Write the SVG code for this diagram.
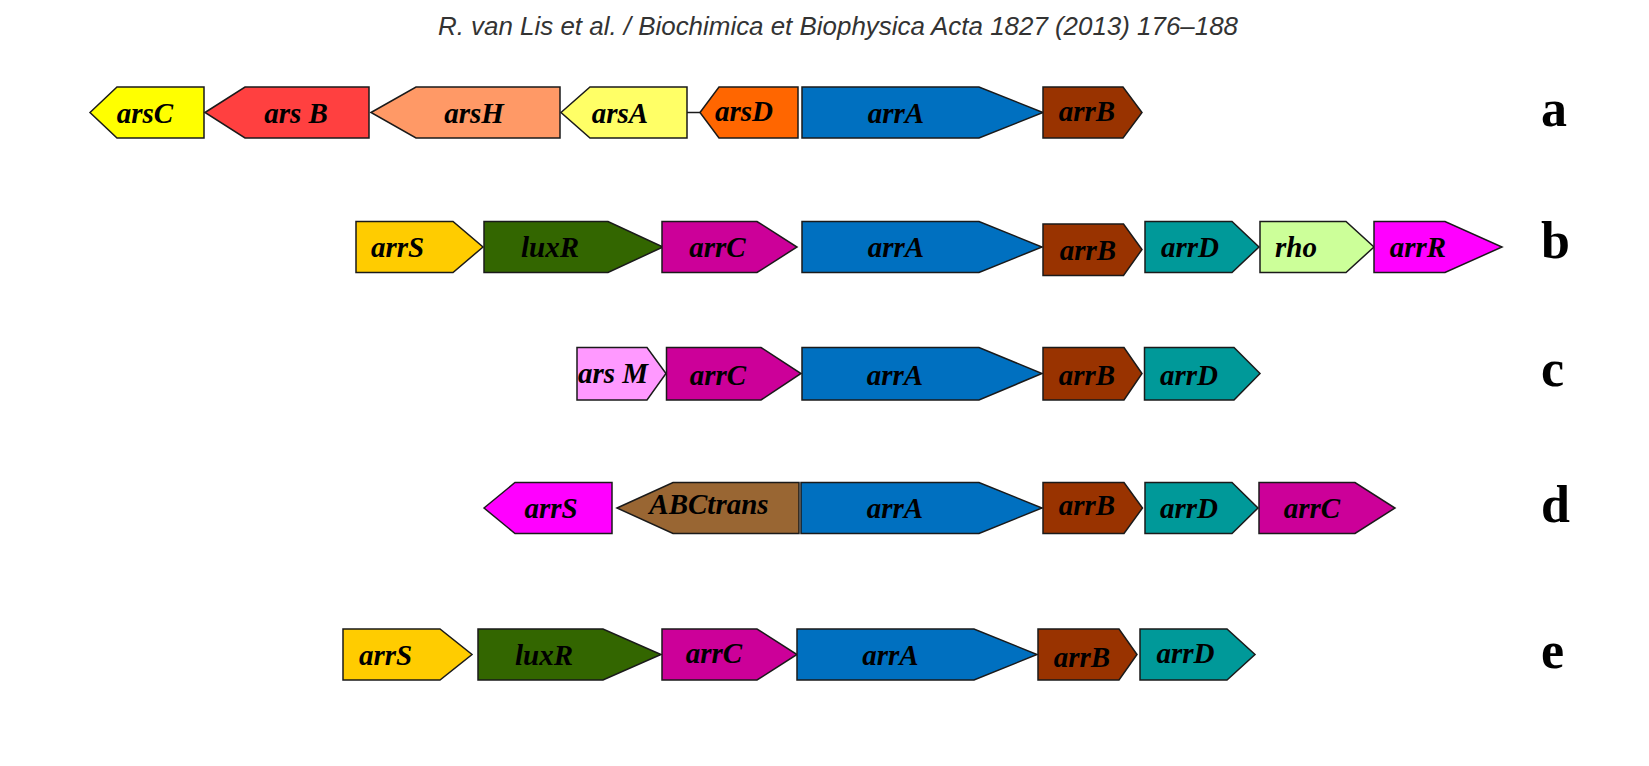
<svg xmlns="http://www.w3.org/2000/svg" width="1649" height="766" viewBox="0 0 1649 766">
<style>
.g{stroke:#1a1a1a;stroke-width:1.5;stroke-linejoin:miter}
.t{font-family:"Liberation Serif","Times New Roman",serif;font-weight:bold;font-style:italic;font-size:29px;fill:#000;text-anchor:middle}
.r{font-family:"Liberation Serif","Times New Roman",serif;font-weight:bold;font-size:52px;fill:#000}
.h{font-family:"Liberation Sans",Arial,sans-serif;font-style:italic;font-size:25px;fill:#333}
</style>
<rect width="1649" height="766" fill="#fff"/>
<text class="h" x="438" y="35" textLength="800" lengthAdjust="spacingAndGlyphs">R. van Lis et al. / Biochimica et Biophysica Acta 1827 (2013) 176–188</text>

<g id="connectors">
<line x1="687" y1="112.5" x2="700" y2="112.5" stroke="#1a1a1a" stroke-width="1.5"/>
</g>

<!-- Row a -->
<g id="a-arsC"><polygon class="g" fill="#FFFF00" points="90,112.5 117,87 204,87 204,138 117,138"/><text class="t" x="145" y="123">arsC</text></g>
<g id="a-arsB"><polygon class="g" fill="#FF4040" points="205,112.5 245,87 369,87 369,138 245,138"/><text class="t" x="296" y="123">ars B</text></g>
<g id="a-arsH"><polygon class="g" fill="#FF9966" points="371,112.5 416,87 560,87 560,138 416,138"/><text class="t" x="474" y="123">arsH</text></g>
<g id="a-arsA"><polygon class="g" fill="#FFFF66" points="561,112.5 590,87 687,87 687,138 590,138"/><text class="t" x="620" y="123">arsA</text></g>
<g id="a-arsD"><polygon class="g" fill="#FF6600" points="700,112.5 719,87 798,87 798,138 719,138"/><text class="t" x="744" y="121">arsD</text></g>
<g id="a-arrA"><polygon class="g" fill="#0070C0" points="802,87 979,87 1043,112.5 979,138 802,138"/><text class="t" x="896" y="123">arrA</text></g>
<g id="a-arrB"><polygon class="g" fill="#993300" points="1043,87 1123,87 1142,112.5 1123,138 1043,138"/><text class="t" x="1087" y="121">arrB</text></g>
<text class="r" x="1541" y="126">a</text>

<!-- Row b -->
<g id="b-arrS"><polygon class="g" fill="#FFCC00" points="356,221.5 453,221.5 483,247 453,272.5 356,272.5"/><text class="t" x="397.5" y="257">arrS</text></g>
<g id="b-luxR"><polygon class="g" fill="#336600" points="484,221.5 608,221.5 663,247 608,272.5 484,272.5"/><text class="t" x="550" y="257">luxR</text></g>
<g id="b-arrC"><polygon class="g" fill="#CC0099" points="662,221.5 757,221.5 797,247 757,272.5 662,272.5"/><text class="t" x="717.5" y="257">arrC</text></g>
<g id="b-arrA"><polygon class="g" fill="#0070C0" points="802,221.5 979,221.5 1042,247 979,272.5 802,272.5"/><text class="t" x="896" y="257">arrA</text></g>
<g id="b-arrB"><polygon class="g" fill="#993300" points="1043,224 1123.5,224 1142,249.5 1123.5,275.5 1043,275.5"/><text class="t" x="1088" y="260">arrB</text></g>
<g id="b-arrD"><polygon class="g" fill="#009999" points="1145,221.5 1232,221.5 1259,247 1232,272.5 1145,272.5"/><text class="t" x="1190" y="257">arrD</text></g>
<g id="b-rho"><polygon class="g" fill="#CCFF99" points="1260,221.5 1346,221.5 1374,247 1346,272.5 1260,272.5"/><text class="t" x="1296" y="257">rho</text></g>
<g id="b-arrR"><polygon class="g" fill="#FF00FF" points="1374,221.5 1445,221.5 1502,247 1445,272.5 1374,272.5"/><text class="t" x="1418" y="257">arrR</text></g>
<text class="r" x="1541" y="258">b</text>

<!-- Row c -->
<g id="c-arsM"><polygon class="g" fill="#FF99FF" points="577,347.5 647,347.5 666,373.5 647,400 577,400"/><text class="t" x="613" y="383">ars M</text></g>
<g id="c-arrC"><polygon class="g" fill="#CC0099" points="666.5,347.5 761,347.5 801,373.5 761,400 666.5,400"/><text class="t" x="718" y="385">arrC</text></g>
<g id="c-arrA"><polygon class="g" fill="#0070C0" points="802,347.5 979,347.5 1042,373.5 979,400 802,400"/><text class="t" x="895" y="385">arrA</text></g>
<g id="c-arrB"><polygon class="g" fill="#993300" points="1043,347.5 1124,347.5 1142,373.5 1124,400 1043,400"/><text class="t" x="1087" y="385">arrB</text></g>
<g id="c-arrD"><polygon class="g" fill="#009999" points="1144.5,347.5 1234,347.5 1260,373.5 1234,400 1144.5,400"/><text class="t" x="1189" y="385">arrD</text></g>
<text class="r" x="1541" y="386">c</text>

<!-- Row d -->
<g id="d-arrS"><polygon class="g" fill="#FF00FF" points="484,508 515,482.5 612,482.5 612,533.5 515,533.5"/><text class="t" x="551" y="518">arrS</text></g>
<g id="d-ABCtrans"><polygon class="g" fill="#996633" points="617,508 673,482.5 799,482.5 799,533.5 673,533.5"/><text class="t" x="709" y="514">ABCtrans</text></g>
<g id="d-arrA"><polygon class="g" fill="#0070C0" points="801,482.5 979,482.5 1042,508 979,533.5 801,533.5"/><text class="t" x="895" y="518">arrA</text></g>
<g id="d-arrB"><polygon class="g" fill="#993300" points="1043,482.5 1124,482.5 1142.5,508 1124,533.5 1043,533.5"/><text class="t" x="1087" y="515">arrB</text></g>
<g id="d-arrD"><polygon class="g" fill="#009999" points="1145,482.5 1232,482.5 1258,508 1232,533.5 1145,533.5"/><text class="t" x="1189" y="518">arrD</text></g>
<g id="d-arrC"><polygon class="g" fill="#CC0099" points="1259,482.5 1355,482.5 1395,508 1355,533.5 1259,533.5"/><text class="t" x="1312" y="518">arrC</text></g>
<text class="r" x="1541" y="522">d</text>

<!-- Row e -->
<g id="e-arrS"><polygon class="g" fill="#FFCC00" points="343,629 440,629 472,654.5 440,680 343,680"/><text class="t" x="385.5" y="665">arrS</text></g>
<g id="e-luxR"><polygon class="g" fill="#336600" points="478,629 603,629 661,654.5 603,680 478,680"/><text class="t" x="544" y="665">luxR</text></g>
<g id="e-arrC"><polygon class="g" fill="#CC0099" points="662,629 757,629 797,654.5 757,680 662,680"/><text class="t" x="714" y="663">arrC</text></g>
<g id="e-arrA"><polygon class="g" fill="#0070C0" points="797,629 974,629 1037,654.5 974,680 797,680"/><text class="t" x="890.5" y="665">arrA</text></g>
<g id="e-arrB"><polygon class="g" fill="#993300" points="1038,629 1119,629 1137,654.5 1119,680 1038,680"/><text class="t" x="1082" y="667">arrB</text></g>
<g id="e-arrD"><polygon class="g" fill="#009999" points="1140,629 1227,629 1255,654.5 1227,680 1140,680"/><text class="t" x="1185.5" y="663">arrD</text></g>
<text class="r" x="1541" y="668">e</text>
</svg>
